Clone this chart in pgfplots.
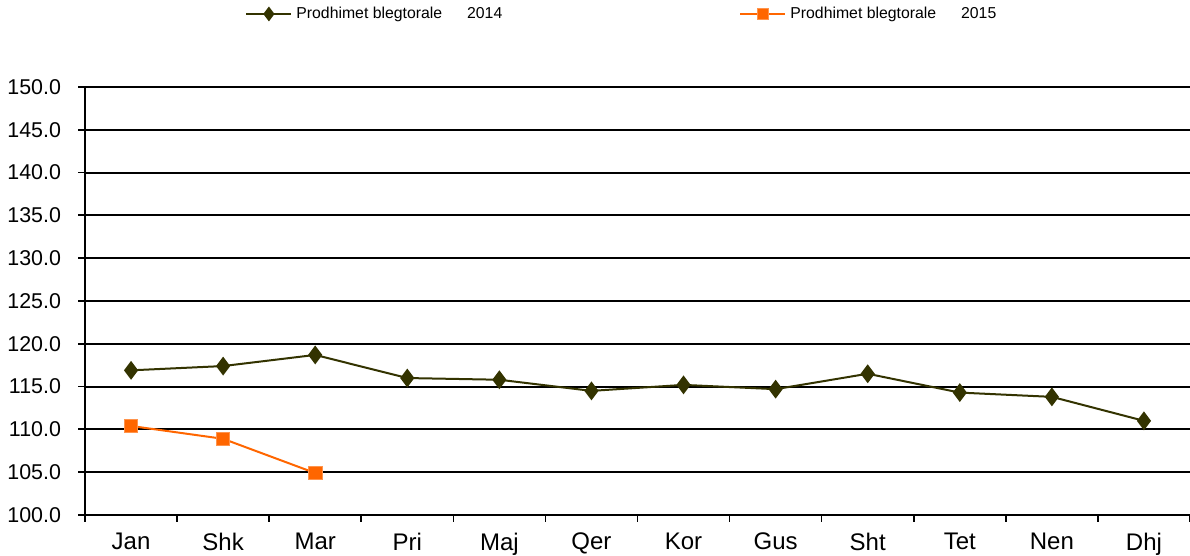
\documentclass[border=0pt]{standalone}
\usepackage{pgfplots}
\pgfplotsset{compat=1.18}
\usepackage{fontspec}
\setmainfont{Liberation Sans}
\definecolor{olive2014}{HTML}{333300}
\definecolor{orange2015}{HTML}{FF6600}
\begin{document}
\begin{tikzpicture}
\useasboundingbox (-42.5pt,-20.5pt) rectangle (552.5pt,257.5pt);
\begin{axis}[
  at={(0pt,0pt)}, anchor=south west,
  scale only axis, width=552.5pt, height=214pt,
  xmin=-0.5, xmax=11.5, ymin=100, ymax=150,
  axis x line*=bottom, axis y line*=left,
  axis line style={line width=1.3pt,-},
  tick align=outside,
  xtick={0,...,11},
  xticklabels={Jan,Shk,Mar,Pri,Maj,Qer,Kor,Gus,Sht,Tet,Nen,Dhj},
  major x tick style={draw=none},
  minor xtick={-0.5,0.5,...,11.5},
  minor x tick style={black, line width=0.8pt},
  minor tick length=3.5pt,
  ytick={100,105,...,150},
  major y tick style={black, line width=0.9pt},
  major tick length=3.5pt,
  ymajorgrids,
  grid style={black, line width=0.95pt},
  /pgf/number format/fixed,
  /pgf/number format/fixed zerofill,
  /pgf/number format/precision=1,
  /pgf/number format/assume math mode=true,
  yticklabel style={font=\fontsize{10.7}{12}\selectfont, xshift=-5pt},
  xticklabel style={font=\fontsize{12}{14}\selectfont, yshift=-2pt},
  clip=false,
  legend columns=2,
  legend cell align=left,
  legend style={at={(0.1448,1.1706)}, anchor=west, draw=none, fill=none,
    inner sep=0pt,
    font=\fontsize{7.9}{9}\selectfont,
    /tikz/every even column/.append style={column sep=29.5pt}},
  legend image code/.code={\draw[mark repeat=2,mark phase=2,mark size=2.9pt] plot coordinates {(0pt,0pt)(11.25pt,0pt)(22.5pt,0pt)};},
]
\addplot[olive2014, line width=1pt, mark=diamond*, mark size=3.9pt, mark options={fill=olive2014}]
 coordinates {(0,116.9)(1,117.4)(2,118.7)(3,116.0)(4,115.8)(5,114.5)(6,115.2)(7,114.7)(8,116.5)(9,114.3)(10,113.8)(11,111.0)};
\addlegendentry{\makebox[190pt][l]{Prodhimet blegtorale\hspace{12.5pt}2014}}
\addplot[orange2015, line width=1pt, mark=square*, mark size=3.4pt, mark options={fill=orange2015, draw=orange2015!70!white, line width=0.5pt}]
 coordinates {(0,110.4)(1,108.9)(2,104.9)};
\addlegendentry{Prodhimet blegtorale\hspace{12.5pt}2015}
\end{axis}
\end{tikzpicture}
\end{document}
